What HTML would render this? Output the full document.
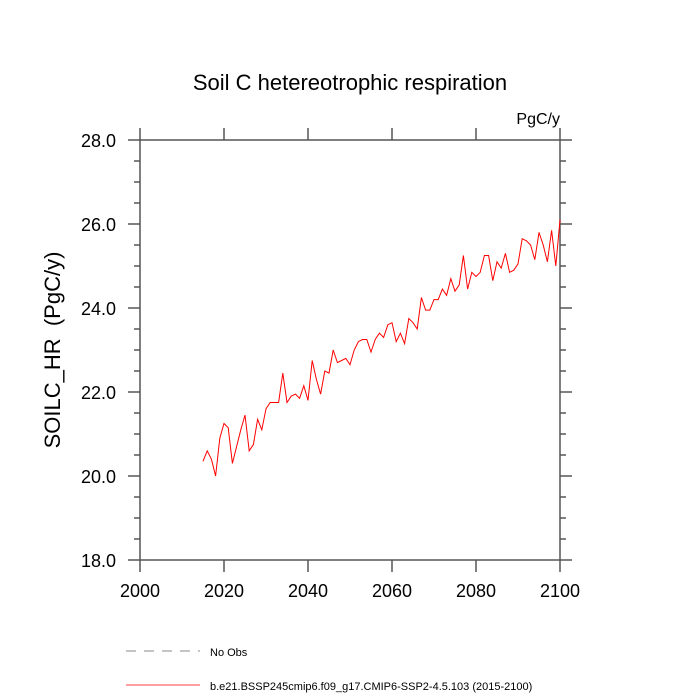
<!DOCTYPE html>
<html><head><meta charset="utf-8"><style>body{margin:0;background:#fff}svg{display:block}text{font-family:"Liberation Sans",sans-serif}</style></head>
<body>
<svg id="chart" width="700" height="700">
<text x="350" y="90" font-size="22" text-anchor="middle">Soil C hetereotrophic respiration</text>
<text x="560" y="124" font-size="16" text-anchor="end">PgC/y</text>
<text transform="translate(60,350) rotate(-90)" font-size="22" text-anchor="middle">SOILC_HR&#160;&#160;(PgC/y)</text>
<g id="axes"></g>
<polyline id="line" fill="none" stroke="#f00" stroke-width="1"/>
<line x1="126" y1="651" x2="200" y2="651" stroke="#888" stroke-dasharray="10,8"/>
<text x="210" y="656" font-size="11">No Obs</text>
<line x1="126" y1="685" x2="200" y2="685" stroke="#f00" stroke-width="0.7"/>
<text x="210" y="690" font-size="11">b.e21.BSSP245cmip6.f09_g17.CMIP6-SSP2-4.5.103 (2015-2100)</text>
</svg>
<script>
const startYear = 2015;
const values = [20.35,20.6,20.4,20.0,20.9,21.25,21.15,20.3,20.7,21.1,21.45,20.6,20.75,21.35,21.1,21.6,21.75,21.75,21.75,22.45,21.75,21.9,21.95,21.85,22.15,21.8,22.75,22.3,21.95,22.5,22.45,23.0,22.7,22.75,22.8,22.65,23.0,23.2,23.25,23.25,22.95,23.25,23.4,23.3,23.6,23.65,23.2,23.4,23.15,23.75,23.65,23.5,24.25,23.95,23.95,24.2,24.2,24.45,24.3,24.7,24.4,24.55,25.25,24.45,24.85,24.75,24.85,25.25,25.25,24.65,25.1,24.95,25.3,24.85,24.9,25.05,25.65,25.6,25.5,25.15,25.8,25.5,25.1,25.85,25.0,26.1];
const xTicks = [2000,2020,2040,2060,2080,2100];
const yTicks = [18,20,22,24,26,28];
const yMinor = [18.5,19,19.5,20.5,21,21.5,22.5,23,23.5,24.5,25,25.5,26.5,27,27.5];
const L=140,R=560,T=140,B=560;
const X=v=>L+(v-2000)/100*(R-L);
const Y=v=>B-(v-18)/10*(B-T);
const NS="http://www.w3.org/2000/svg";
const g=document.getElementById('axes');
function ln(x1,y1,x2,y2,name){const e=document.createElementNS(NS,'line');e.setAttribute('x1',x1);e.setAttribute('y1',y1);e.setAttribute('x2',x2);e.setAttribute('y2',y2);e.setAttribute('stroke','#555');e.setAttribute('stroke-width','1.5');


g.appendChild(e);}
function tx(x,y,s,anchor,name){const e=document.createElementNS(NS,'text');e.setAttribute('x',x);e.setAttribute('y',y);e.setAttribute('font-size','18');e.setAttribute('text-anchor',anchor);e.textContent=s;


g.appendChild(e);}
const r=document.createElementNS(NS,'rect');r.setAttribute('x',L);r.setAttribute('y',T);r.setAttribute('width',R-L);r.setAttribute('height',B-T);r.setAttribute('fill','none');r.setAttribute('stroke','#555');r.setAttribute('stroke-width','1.5');


g.appendChild(r);
xTicks.forEach(v=>{ln(X(v),B,X(v),B+12,'x-tick');ln(X(v),T,X(v),T-12,'x-tick-top');tx(X(v),B+37,String(v),'middle','x-tick-label');});
yTicks.forEach(v=>{ln(L,Y(v),L-12,Y(v),'y-tick');ln(R,Y(v),R+12,Y(v),'y-tick-right');tx(L-24,Y(v)+7,v.toFixed(1),'end','y-tick-label');});
yMinor.forEach(v=>{ln(L,Y(v),L-6,Y(v),'y-minor-tick');ln(R,Y(v),R+6,Y(v),'y-minor-tick-right');});
document.getElementById('line').setAttribute('points',values.map((v,i)=>X(startYear+i)+','+Y(v)).join(' '));
</script>
</body></html>
